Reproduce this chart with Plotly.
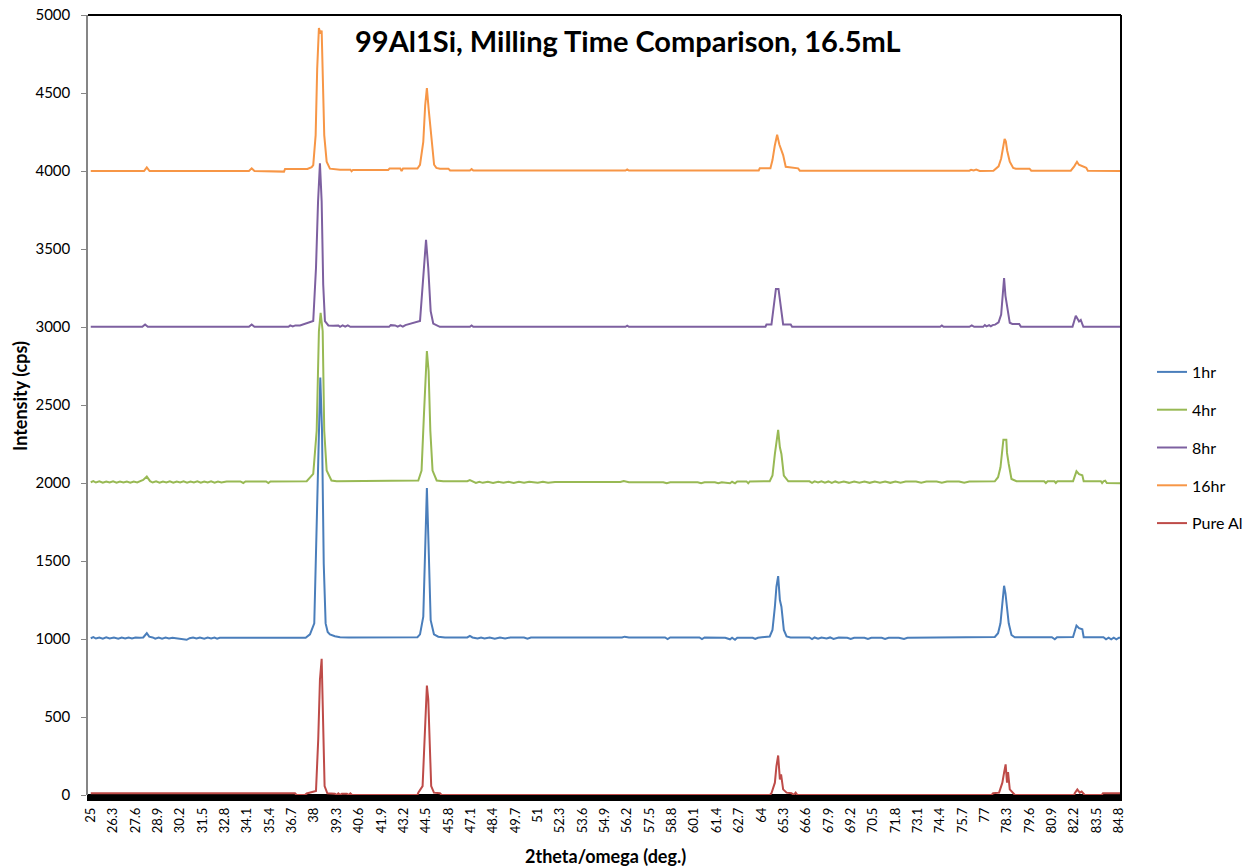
import plotly.graph_objects as go

# ---- tick labels (category-style labels of the 2theta axis) ----
x_ticks = [25, 26.3, 27.6, 28.9, 30.2, 31.5, 32.8, 34.1, 35.4, 36.7, 38, 39.3, 40.6, 41.9, 43.2,
           44.5, 45.8, 47.1, 48.4, 49.7, 51, 52.3, 53.6, 54.9, 56.2, 57.5, 58.8, 60.1, 61.4, 62.7,
           64, 65.3, 66.6, 67.9, 69.2, 70.5, 71.8, 73.1, 74.4, 75.7, 77, 78.3, 79.6, 80.9, 82.2,
           83.5, 84.8]
y_ticks = [0, 500, 1000, 1500, 2000, 2500, 3000, 3500, 4000, 4500, 5000]

series_names = ["1hr", "4hr", "8hr", "16hr", "Pure Al"]

# ---- series values: (2theta, cps) ----
p_1hr = [(25,1005),(25.15,1012),(25.3,1003),(25.5,1010),(25.7,1002),(25.9,1011),(26.1,1003),(26.35,1010),
 (26.6,1002),(26.8,1009),(27.0,1003),(27.2,1010),(27.4,1003),(27.6,1009),(27.85,1008),(28.05,1010),
 (28.26,1037),(28.4,1015),(28.6,1010),(28.75,1002),(28.95,1010),(29.15,1002),(29.35,1009),(29.55,1003),
 (29.75,1008),(30.0,1005),(30.3,1003),(30.58,995),(30.75,1005),(30.95,1010),(31.15,1003),(31.35,1010),
 (31.6,1002),(31.8,1009),(32.0,1003),(32.2,1009),(32.35,1002),(32.5,1008),(37.5,1008),(37.75,1030),
 (38.0,1100),(38.14,1697),(38.26,2335),(38.35,2676),(38.45,2335),(38.55,1484),(38.66,1100),(38.78,1045),
 (38.91,1030),(39.2,1018),(39.5,1012),(40.0,1010),(44.0,1012),(44.15,1030),(44.34,1143),(44.44,1590),
 (44.55,1967),(44.65,1590),(44.77,1121),(44.96,1030),(45.21,1015),(45.6,1010),(46.9,1010),(47.05,1020),
 (47.2,1010),(47.5,1003),(47.7,1010),(47.9,1003),(48.2,1010),(48.5,1002),(48.8,1010),(49.1,1003),
 (49.4,1010),(50.2,1010),(50.4,1002),(50.6,1010),(55.9,1010),(56.05,1015),(56.3,1010),(58.4,1010),
 (58.55,1000),(58.7,1010),(60.4,1010),(60.55,1000),(60.7,1010),(61.9,1008),(62.18,998),(62.3,1008),
 (62.47,995),(62.6,1008),(63.5,1008),(63.65,1000),(63.8,1008),(64.49,1016),(64.65,1058),(64.79,1207),
 (64.88,1335),(64.98,1403),(65.08,1250),(65.17,1207),(65.31,1058),(65.47,1016),(65.7,1010),(66.8,1010),
 (66.95,1000),(67.1,1010),(67.3,1002),(67.5,1010),(67.8,1003),(68.0,1010),(68.2,1000),(68.5,1010),
 (69.0,1008),(69.2,1000),(69.4,1008),(70.0,1008),(70.2,1000),(70.4,1008),(71.0,1008),(71.2,1000),
 (71.4,1008),(72.0,1008),(72.3,1000),(72.5,1008),(77.58,1013),(77.77,1037),(77.91,1101),(78.02,1228),
 (78.12,1341),(78.2,1292),(78.29,1197),(78.39,1101),(78.55,1026),(78.74,1011),(80.9,1011),(81.07,998),
 (81.2,1011),(82.13,1013),(82.33,1086),(82.48,1069),(82.67,1062),(82.75,1011),(83.9,1011),(84.05,998),
 (84.2,1008),(84.35,998),(84.5,1008),(84.65,998),(84.8,1008),(84.9,1008)]

p_4hr = [(25,2005),(25.15,2012),(25.3,2003),(25.5,2011),(25.7,2002),(25.9,2010),(26.1,2003),(26.3,2011),
 (26.5,2002),(26.7,2010),(26.9,2003),(27.1,2010),(27.3,2002),(27.5,2010),(27.7,2004),(27.87,2010),
 (28.05,2020),(28.26,2041),(28.45,2012),(28.6,2003),(28.8,2011),(29.0,2002),(29.2,2010),(29.4,2003),
 (29.6,2011),(29.8,2002),(30.0,2010),(30.2,2003),(30.4,2011),(30.6,2002),(30.8,2010),(31.0,2003),
 (31.2,2011),(31.4,2002),(31.6,2010),(31.8,2003),(32.0,2011),(32.2,2002),(32.4,2010),(32.6,2003),
 (32.9,2010),(33.7,2010),(33.87,2000),(34.0,2010),(35.2,2010),(35.33,2000),(35.45,2010),(37.56,2011),
 (37.94,2059),(38.14,2335),(38.27,2973),(38.37,3090),(38.49,2973),(38.58,2335),(38.72,2080),(39.0,2016),
 (39.3,2011),(44.05,2016),(44.24,2080),(44.38,2442),(44.48,2718),(44.55,2846),(44.65,2718),(44.75,2335),
 (44.88,2080),(45.12,2016),(45.5,2011),(46.9,2011),(47.05,2018),(47.2,2008),(47.4,2000),(47.6,2008),
 (47.8,2001),(48.1,2008),(48.4,2000),(48.7,2008),(49.0,2001),(49.3,2008),(49.6,2000),(49.9,2008),
 (50.2,2001),(50.5,2008),(51.0,2001),(51.3,2008),(51.6,2001),(52.0,2006),(55.8,2006),(56.0,2012),
 (56.3,2005),(58.3,2005),(58.5,1998),(58.7,2005),(60.3,2005),(60.5,1998),(60.7,2005),(61.3,2005),
 (61.5,1998),(61.7,2005),(62.18,1998),(62.3,2008),(62.47,1998),(62.6,2010),(63.14,2010),(63.24,1998),
 (63.33,2010),(64.49,2011),(64.65,2048),(64.79,2186),(64.88,2271),(64.98,2340),(65.08,2229),(65.17,2186),
 (65.31,2048),(65.57,2011),(66.8,2011),(66.95,2001),(67.1,2011),(67.3,2003),(67.5,2011),(67.7,2002),
 (67.9,2010),(68.1,2001),(68.3,2010),(68.5,2002),(68.8,2010),(69.1,2001),(69.4,2010),(69.7,2002),
 (70.0,2010),(70.3,2001),(70.6,2010),(70.9,2002),(71.2,2010),(71.5,2001),(71.8,2010),(72.1,2002),
 (72.4,2010),(73.0,2010),(73.3,2002),(73.6,2010),(74.2,2010),(74.5,2002),(74.8,2010),(75.5,2010),
 (75.8,2002),(76.1,2010),(77.58,2011),(77.77,2037),(77.91,2101),(78.02,2207),(78.08,2278),(78.25,2278),
 (78.29,2193),(78.39,2122),(78.55,2026),(78.84,2011),(80.45,2011),(80.55,2000),(80.65,2011),(81.05,2011),
 (81.13,2000),(81.22,2011),(82.13,2011),(82.33,2075),(82.48,2056),(82.67,2049),(82.75,2011),(83.75,2011),
 (83.82,2000),(83.9,2011),(84.0,2015),(84.1,2000),(84.9,1998)]

p_8hr = [(25,3001),(28.0,3001),(28.16,3016),(28.32,3001),(34.2,3001),(34.36,3016),(34.52,3001),(36.5,3001),
 (36.6,3010),(36.75,3003),(36.9,3010),(37.17,3010),(37.94,3038),(38.1,3378),(38.22,3804),(38.33,4049),
 (38.43,3804),(38.52,3272),(38.62,3038),(38.82,3010),(39.1,3008),(39.4,3010),(39.5,3001),(39.65,3010),
 (39.8,3002),(39.95,3010),(40.1,3001),(42.35,3001),(42.45,3012),(42.7,3010),(42.85,3002),(43.0,3010),
 (43.15,3002),(43.3,3012),(44.15,3038),(44.3,3272),(44.45,3530),(44.5,3559),(44.63,3378),(44.77,3102),
 (44.92,3022),(45.12,3010),(45.3,3001),(47.05,3001),(47.15,3010),(47.25,3001),(56.1,3001),(56.2,3008),
 (56.3,3001),(64.24,3001),(64.3,3016),(64.59,3016),(64.73,3123),(64.85,3244),(65.0,3244),(65.13,3123),
 (65.27,3016),(65.71,3016),(65.79,3001),(74.4,3001),(74.5,3010),(74.6,3001),(76.1,3001),(76.24,3010),
 (76.38,3001),(76.9,3001),(77.0,3012),(77.1,3004),(77.25,3012),(77.35,3004),(77.45,3012),(77.6,3015),
 (77.8,3030),(77.95,3080),(78.12,3314),(78.2,3200),(78.25,3162),(78.35,3080),(78.45,3027),(78.6,3020),
 (79.0,3020),(79.1,3001),(82.1,3001),(82.29,3072),(82.48,3035),(82.58,3045),(82.73,3001),(84.9,3001)]

p_16hr = [(25,4000),(28.1,4000),(28.26,4023),(28.42,4000),(34.2,4000),(34.36,4017),(34.52,4000),(36.18,4000),
 (36.24,3996),(36.3,4013),(37.6,4013),(37.85,4025),(37.94,4038),(38.08,4230),(38.17,4655),(38.27,4917),
 (38.36,4880),(38.43,4900),(38.49,4655),(38.58,4230),(38.72,4060),(38.91,4015),(39.5,4008),(40.1,4008),
 (40.17,3998),(40.25,4007),(42.3,4007),(42.38,4016),(43.0,4016),(43.08,4000),(43.16,4016),(44.0,4016),
 (44.15,4040),(44.34,4187),(44.45,4420),(44.55,4532),(44.65,4400),(44.82,4187),(44.97,4040),(45.1,4020),
 (45.31,4015),(45.8,4015),(45.9,4003),(47.05,4003),(47.15,4012),(47.25,4003),(56.1,4003),(56.2,4010),
 (56.3,4003),(63.85,4003),(63.91,4017),(64.53,4017),(64.65,4070),(64.78,4160),(64.92,4232),(65.05,4170),
 (65.27,4102),(65.42,4027),(66.14,4017),(66.24,4002),(76.1,4002),(76.2,4008),(76.35,4003),(76.5,4009),
 (76.7,4000),(77.5,4002),(77.6,4010),(77.8,4030),(77.95,4080),(78.05,4160),(78.15,4206),(78.22,4190),
 (78.3,4130),(78.45,4060),(78.65,4020),(78.8,4015),(79.6,4015),(79.7,4002),(82.0,4002),(82.2,4030),
 (82.36,4059),(82.47,4040),(82.6,4034),(82.75,4025),(82.9,4020),(82.99,4002),(84.9,4000)]

p_pure = [(25,11),(36.88,11),(36.97,0),(37.46,0),(37.56,10),(38.1,26),(38.23,356),(38.33,739),(38.43,873),
 (38.52,462),(38.6,57),(38.76,11),(39.2,8),(39.3,0),(39.4,10),(39.5,0),(39.6,8),(39.9,8),(40.0,0),
 (40.1,10),(40.2,0),(44.0,0),(44.05,15),(44.3,57),(44.4,356),(44.48,613),(44.55,702),(44.63,613),
 (44.71,356),(44.8,57),(44.96,15),(45.31,12),(45.4,0),(64.5,0),(64.59,11),(64.79,79),(64.88,185),
 (64.98,253),(65.08,100),(65.15,132),(65.27,36),(65.47,15),(65.76,11),(65.89,0),(66.0,15),(66.1,0),
 (77.4,0),(77.48,11),(77.83,15),(78.02,79),(78.12,143),(78.21,196),(78.29,79),(78.35,147),(78.45,36),
 (78.64,11),(78.75,0),(82.2,0),(82.23,11),(82.38,36),(82.52,15),(82.63,22),(82.81,0),(83.8,0),
 (83.87,11),(84.9,11)]

series_data = [p_1hr, p_4hr, p_8hr, p_16hr, p_pure]
colors = ["#4A7EBB", "#98B954", "#7D60A0", "#F79646", "#BE4B48"]

FONT = "Lato"

fig = go.Figure()
for name, pts, col in zip(series_names, series_data, colors):
    xs = [p[0] for p in pts]
    ys = [p[1] for p in pts]
    fig.add_trace(go.Scatter(x=xs, y=ys, mode="lines", name=name, legendgroup=name,
                             line=dict(color=col, width=2)))

# the page body margin is removed below, so figure pixels == screen pixels
SL, SR, ST, SB = 88, 1121, 15, 795          # plot area on screen
W, H = 1250, 867
pw, ph = SR - SL, SB - ST

def px(xs):
    return (xs - SL) / pw

def py(ys):
    return (SB - ys) / ph

fig.update_layout(
    width=W, height=H,
    margin=dict(l=SL, r=W - SR, t=ST, b=H - SB, autoexpand=False),
    paper_bgcolor="white", plot_bgcolor="white",
    font=dict(family=FONT, color="black"),
    showlegend=True,
    legend=dict(x=px(1152), y=py(355), xanchor="left", yanchor="top",
                font=dict(family=FONT, size=16, color="black"),
                tracegroupgap=14, bgcolor="rgba(0,0,0,0)"),
    xaxis=dict(range=[24.84, 84.92], tickmode="array", tickvals=x_ticks,
               ticktext=[str(v) for v in x_ticks], tickangle=-90,
               tickfont=dict(family=FONT, size=13, color="black"),
               ticklabelstandoff=9, ticklabeloverflow="allow",
               showgrid=False, zeroline=False, showline=False, ticks="",
               automargin=False),
    yaxis=dict(range=[0, 5000], tickmode="array", tickvals=y_ticks,
               tickfont=dict(family=FONT, size=15, color="black"),
               ticklabelstandoff=8, ticklabeloverflow="allow",
               showgrid=False, zeroline=False, showline=True, linecolor="#868686",
               linewidth=1.5, ticks="outside", ticklen=5, tickcolor="#868686",
               automargin=False),
    shapes=[
        # thick black base band under the zero line
        dict(type="rect", xref="paper", yref="paper", x0=px(87), x1=px(1122), y0=py(801), y1=py(794),
             fillcolor="black", line=dict(width=0), layer="below"),
        dict(type="line", xref="paper", yref="paper", x0=0, x1=1, y0=1, y1=1,
             line=dict(color="black", width=2)),
        dict(type="line", xref="paper", yref="paper", x0=1, x1=1, y0=0, y1=1,
             line=dict(color="black", width=2)),
    ],
    annotations=[
        dict(text="<b>99Al1Si, Milling Time Comparison, 16.5mL</b>", xref="paper", yref="paper",
             x=px(628), y=py(41), xanchor="center", yanchor="middle", showarrow=False,
             font=dict(family=FONT, size=29, color="black")),
        dict(text="<b>Intensity (cps)</b>", xref="paper", yref="paper", x=px(20), y=py(396),
             xanchor="center", yanchor="middle", textangle=-90, showarrow=False,
             font=dict(family=FONT, size=18, color="black")),
        dict(text="<b>2theta/omega (deg.)</b>", xref="paper", yref="paper", x=px(605), y=py(856),
             xanchor="center", yanchor="middle", showarrow=False,
             font=dict(family=FONT, size=18, color="black")),
    ],
)

fig.write_html("out.html", config={"displayModeBar": False},
               post_script="document.body.style.margin='0';document.body.style.overflow='hidden';")
